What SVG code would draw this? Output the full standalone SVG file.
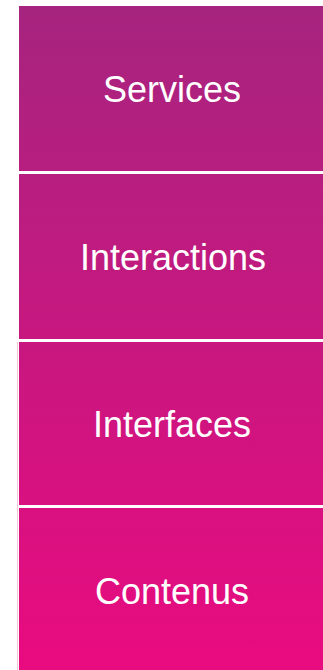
<svg xmlns="http://www.w3.org/2000/svg" width="323" height="670" viewBox="0 0 323 670">
  <defs>
    <linearGradient id="stackFill" gradientUnits="userSpaceOnUse" x1="0" y1="6" x2="0" y2="670">
      <stop offset="0" stop-color="#A6247F"/>
      <stop offset="1" stop-color="#E90B80"/>
    </linearGradient>
    <style>
      .layer { fill: url(#stackFill); }
      .label { fill: #FFFFFF; font-family: "Liberation Sans", Arial, sans-serif; font-size: 36px; text-anchor: middle; }
    </style>
  </defs>
  <rect width="323" height="670" fill="#FFFFFF"/>
  <!-- faint edge line beside the lower layers -->
  <line x1="17.5" y1="342" x2="17.5" y2="670" stroke="#F4C6DE" stroke-width="1"/>
  <g id="services">
    <rect class="layer" x="19" y="6" width="304" height="165"/>
    <text class="label" x="172" y="102">Services</text>
  </g>
  <g id="interactions">
    <rect class="layer" x="19" y="174" width="304" height="165"/>
    <text class="label" x="173" y="270">Interactions</text>
  </g>
  <g id="interfaces">
    <rect class="layer" x="19" y="342" width="304" height="163"/>
    <text class="label" x="172" y="437">Interfaces</text>
  </g>
  <g id="contenus">
    <rect class="layer" x="19" y="508" width="304" height="162"/>
    <text class="label" x="172" y="604">Contenus</text>
  </g>
  <g id="connectors"/>
</svg>
